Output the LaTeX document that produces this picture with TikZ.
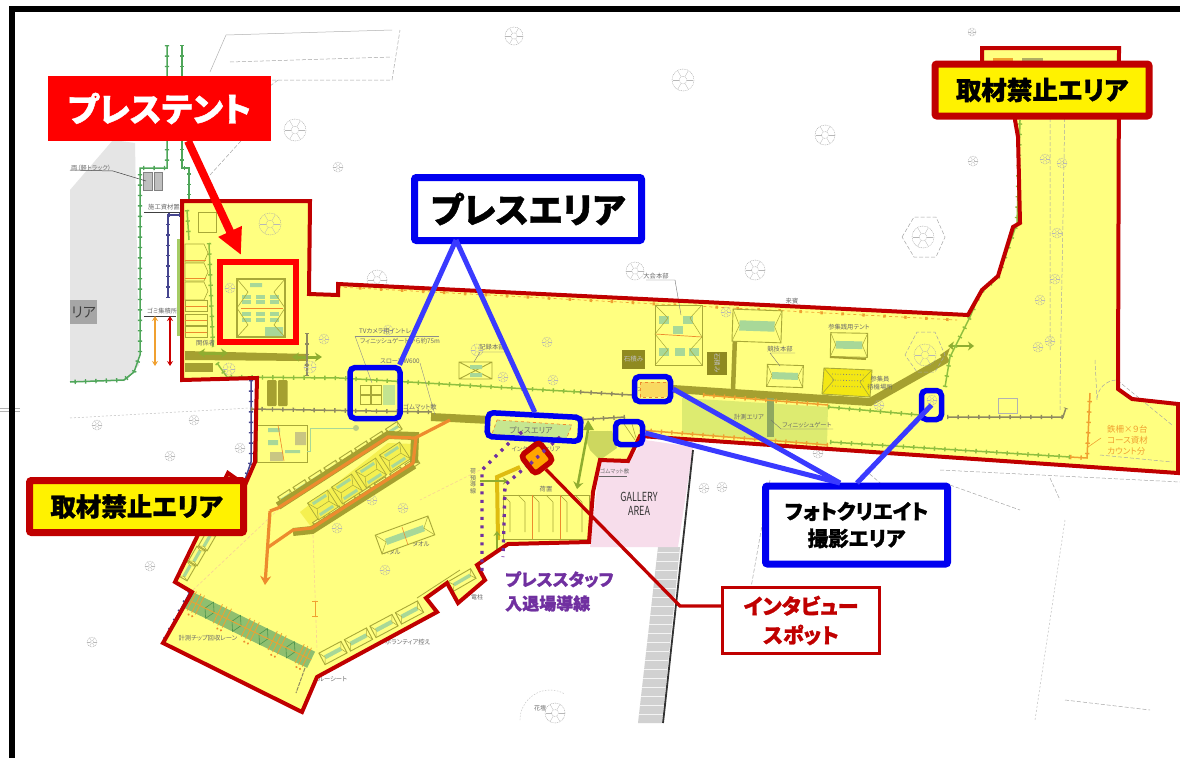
\documentclass[tikz,border=0pt]{standalone}
\usepackage{fontspec}
\setmainfont{Noto Sans CJK JP}[RawFeature={+palt},BoldFeatures={FakeBold=1.2}]
\usetikzlibrary{arrows.meta,shapes.geometric}
\definecolor{zone}{HTML}{FFFF80}
\definecolor{darkred}{HTML}{C00000}
\definecolor{pureblue}{HTML}{0000F0}
\definecolor{linkblue}{HTML}{3A3AFF}
\definecolor{mapgreen}{HTML}{4FA65A}
\definecolor{limefence}{HTML}{8FBF3F}
\definecolor{navyf}{HTML}{45458F}
\definecolor{greyf}{HTML}{8F8A60}
\definecolor{orangef}{HTML}{F0A030}
\definecolor{orangeline}{HTML}{ED8B2E}
\definecolor{olive}{HTML}{A5A030}
\definecolor{olivedark}{HTML}{8F8A20}
\definecolor{tentline}{HTML}{A8A838}
\definecolor{tentgreen}{HTML}{A8D898}
\definecolor{pinkarea}{HTML}{F7DDEB}
\definecolor{purp}{HTML}{7030A0}
\definecolor{lightzone}{HTML}{DDEB70}
\definecolor{arrowgreen}{HTML}{8FAD30}
\definecolor{brightyellow}{HTML}{F5F050}
\definecolor{lanegreen}{HTML}{8FBF6F}
\definecolor{gategreen}{HTML}{8FA860}
\tikzset{
  fence/.style={draw=#1,line width=1.5,postaction={draw=#1,line width=4.4,dash pattern=on 1.4 off 9}},
  bluesq/.style={draw=pureblue,line width=5.5,rounded corners=5,inner sep=0pt},
  bluelabel/.style={draw=pureblue,line width=7,rounded corners=2,fill=white,inner sep=0pt,align=center,font=\bfseries},
  banlabel/.style={draw=darkred,line width=7,rounded corners=2,fill=yellow,inner sep=0pt,minimum width=214,minimum height=52,font=\fontsize{25.5}{28}\selectfont\bfseries},
  bluelink/.style={draw=linkblue,line width=5},
  faint/.style={draw=black!30,line width=.5},
  faintd/.style={draw=black!35,line width=.5,dash pattern=on 4 off 2},
  tiny/.style={text=black!58,inner sep=0pt,font=\fontsize{6.3}{8}\selectfont},
  tentbox/.style={draw=tentline,line width=.9,fill=#1},
  tentbox/.default=zone,
}
% tent: centre x,y; width; height; angle
\newcommand{\tentic}[5]{%
  \begin{scope}[shift={(#1,#2)},rotate=#5]
    \draw[tentbox] (-#3/2,-#4/2) rectangle (#3/2,#4/2);
    \fill[tentgreen] (-#3*.36,-#4*.16) rectangle (#3*.36,#4*.16);
    \draw[tentline,line width=.5] (-#3/2,-#4/2) -- (-#3*.36,0) -- (-#3/2,#4/2) (#3/2,-#4/2) -- (#3*.36,0) -- (#3/2,#4/2);
  \end{scope}}
\newcommand{\treeic}[3]{%
  \begin{scope}[shift={(#1,#2)}]
    \draw[black!35,line width=.4,dash pattern=on 1 off .8] (0,0) circle (#3);
    \draw[black!35,line width=.35,dash pattern=on 1 off .8] (0,0) circle (#3*.35);
    \foreach \a in {0,60,...,300}{\draw[black!28,line width=.3] (\a:#3*.35) -- (\a:#3*.95);}
  \end{scope}}
\begin{document}
\begin{tikzpicture}[x=1pt,y=-1pt]
\useasboundingbox (0,0) rectangle (1180,758);
\fill[white] (0,0) rectangle (1180,758);
% ---- faint base map
\foreach \x/\y/\r in {295/130/11,230/118/10,124/201/5,126/250/6,93/233/5,127/293/5,121/336/5,86/373/6,125/373/6,338/167/5,377/280/10,514/36/9,683/80/11,825/135/10,973/161/5,972/32/4,97/425/5,194/420/5,170/456/5,240/448/5,150/566/5,92/642/5,923/237/11,755/270/10,635/271/9,555/713/10,704/488/5,722/487/5,818/453/5}{\treeic{\x}{\y}{\r}}
\draw[faintd] (902,237) -- (914,217) -- (936,217) -- (945,237) -- (936,257) -- (914,257) -- cycle;
\draw[black!25,line width=.4,dash pattern=on 1.5 off 1.5] (520,720) arc (180:300:30);
\draw[faint] (210,72) -- (226,35) -- (392,30);
\draw[faintd] (230,62) -- (392,57) (212,80) -- (392,80) -- (400,30);
\draw[faintd] (278,80) -- (212,130) (210,175) -- (260,120);
\draw[faint] (0,408) -- (20,408) (0,411) -- (20,411);
\draw[black!25,line width=.5,dash pattern=on 2 off 2] (70,418) -- (250,408);
\draw[faintd] (940,470) -- (1180,482) (950,485) -- (1020,510) (865,470) -- (900,500);
\draw[faintd] (770,480) -- (740,650) (1050,478) -- (1060,500) (1065,700) -- (1150,710);
\draw[black!25,line width=.5,dash pattern=on 2 off 2] (1065,520) -- (1035,720);
% grey area
\fill[black!10] (70,190) -- (113,140) -- (135,143) -- (139,365) -- (125,381) -- (70,382) -- cycle;
\node[fill=black!35,text=black!75,minimum width=27,minimum height=24,inner sep=0pt,anchor=north west,font=\fontsize{14}{16}\selectfont] (leftarea) at (70,300) {リア};
\draw[black!50,fill=black!25,line width=.5] (143,172) rectangle (152,190) (154,172) rectangle (162,190);
\draw[black!75,line width=.5] (70,170) -- (113,171) -- (146,181);
\node[tiny,anchor=west] (trucklabel) at (71,168) {両（軽トラック）};
\node[tiny,anchor=west] (matlabel) at (148,207) {施工資材置場};
\draw[black!75,line width=.4] (144,212) -- (180,212);
\node[tiny,anchor=west] (garbagelabel) at (147,311) {ゴミ集積所};
\draw[black!75,line width=.4] (144,316) -- (176,316);
% outside fences
\draw[fence=mapgreen] (167,45) -- (167,168) -- (140,168) -- (140,355) -- (134,372) -- (124,380) -- (70,382);
\draw[fence=mapgreen] (182,45) -- (182,168) -- (189,168) -- (189,202);
\draw[fence=navyf] (180,215) -- (168,215) -- (168,298);
\draw[fence=navyf] (251,380) -- (251,462) -- (245,480);
\draw[fence=navyf] (190,592) -- (163,643);
\draw[orangef,line width=2,{Stealth[length=5,width=6]}-{Stealth[length=5,width=6]}] (155,316) -- (155,366);
\draw[red!80!black,line width=2,{Stealth[length=5,width=6]}-{Stealth[length=5,width=6]}] (170,316) -- (170,366);
\draw[limefence!80!white,line width=1.5] (178,240) rectangle (180,335);
% road strip, pink gallery
\begin{scope}
  \clip (658,547) -- (680,547) -- (662,723) -- (638,723) -- cycle;
  \fill[black!18] (630,540) rectangle (690,730);
  \foreach \i in {0,1,...,19}{\draw[white!75!black!18,line width=.4] (630,552+9*\i) -- (690,552+9*\i);}
\end{scope}
\fill[pinkarea] (600,460) -- (628,461) -- (645,440) -- (693,447) -- (678,547) -- (590,547) -- cycle;
\draw[black!80,line width=1.8] (693,450) -- (663,723);
% ---- yellow zone
\fill[zone] (182,201) -- (310,201) -- (309,294) -- (338,295) -- (338,284) -- (968,315) -- (982,290) -- (998,276) -- (1013,227) -- (1020,223) -- (1018,137) -- (1015,120) -- (1015,90) -- (982,90) -- (982,48) -- (1119,48) -- (1118,389) -- (1132,399) -- (1178,404) -- (1178,473) -- (640,436) -- (628,461) -- (600,460) -- (593,492) -- (589,542) -- (508,544) -- (477,565) -- (485,580) -- (458,603) -- (447,583) -- (426,598) -- (437,612) -- (317,677) -- (302,712) -- (163,643) -- (192,592) -- (175,582) -- (228,473) -- (245,485) -- (255,462) -- (257,378) -- (182,380) -- cycle;
% light zone, bands
\fill[lightzone] (682,398) -- (828,407) -- (827,445) -- (682,433) -- cycle;
\draw[olive,line width=8] (431,417) -- (490,420);
\draw[olive,line width=8] (673,389) -- (870,402) -- (948,358);
\fill[olive] (950,348) -- (945,362) -- (940,355) -- cycle;
\draw[olive,line width=4.5] (735,337) -- (733,390);
\draw[gategreen,line width=7] (770,398) -- (770,437);
\fill[olive] (185,351) -- (308,354) -- (308,361) -- (185,360) -- cycle;
\fill[olive] (185,363) rectangle (213,372);
\foreach \x/\y in {267/380,278/380}{\fill[olive,rounded corners=1] (\x,\y) rectangle ++(9.5,26);}
\draw[arrowgreen,line width=3,{Stealth[length=7,width=9]}-{Stealth[length=7,width=9]}] (198,353) -- (228,353);
\draw[arrowgreen,line width=3,{Stealth[length=7,width=9]}-{Stealth[length=7,width=9]}] (292,357) -- (322,357);
\draw[arrowgreen,line width=2.5,{Stealth[length=6,width=9]}-{Stealth[length=6,width=9]}] (948,346) -- (974,346);
% fences in zone
\draw[fence=limefence] (217,363) -- (227,377) -- (340,378) -- (580,392);
\draw[fence=greyf] (580,392) -- (632,395);
\draw[fence=limefence] (828,407) -- (920,415);
\draw[fence=greyf] (947,417) -- (1063,417) -- (1066,408);
\draw[fence=limefence] (945,387) -- (950,357) -- (970,317) -- (980,293) -- (998,277) -- (1017,223) -- (1020,120);
\draw[fence=limefence] (830,442) -- (1070,457);
\draw[fence=orangef] (1070,457) -- (1087,458) -- (1090,393);
\draw[fence=greyf] (251,409) -- (432,412);
\draw[fence=greyf] (307,333) -- (307,375);
\draw[fence=limefence] (209,243) -- (213,347);
\draw[fence=limefence] (187,210) -- (189,240);
\draw[fence=orangef] (703,395) -- (828,405);
\draw[fence=orangef] (640,430) -- (828,445);
\draw[fence=greyf] (625,417) -- (575,420);
\draw[orangef,line width=.7,dashed,postaction={draw,line width=3,dash pattern=on 2.5 off 18.5}] (338,287) -- (957,320);
\draw[faintd] (1050,100) -- (1050,350) (1065,100) -- (1060,390) -- (1060,412);
\draw[faintd] (1095,360) -- (1097,400) arc (180:270:20) -- (1172,425);
\draw[faintd] (1100,455) -- (1172,462);
\draw[faint] (998,398) rectangle (1017,413);
% top-right parcels
\fill[orangef] (993,58) rectangle (1013,62);
\fill[olivedark!70] (1022,58) rectangle (1043,62);
% press tent area
\draw[tentline,line width=1.3] (237,279) rectangle (285,337);
\foreach \x in {246,260,274}{\foreach \y in {297,302,314,320}{\fill[tentgreen] (\x-4.5,\y-2) rectangle (\x+4.5,\y+2);}}
\fill[tentgreen] (250,283) rectangle (262,287) (265,327) rectangle (283,336);
\draw[orangeline,line width=.7] (241,308) -- (283,308);
\draw[tentline,line width=.6] (237,279) -- (248,292) -- (237,308) -- (248,325) -- (237,337) (285,279) -- (274,292) -- (285,308) -- (274,325) -- (285,337);
\foreach \x/\y/\r in {230/288/5,270/224/11,324/339/5,229/369/6,310/367/6,477/350/6,547/342/5,503/377/5,553/380/5,388/330/5,726/312/5,1045/159/5,1062/163/5,1057/233/5,1055/279/5,1040/300/5,1038/347/5,1050/341/5,879/405/5,925/355/11,932/400/5,605/445/5,372/500/5,337/528/5,403/508/5,385/570/5}{\treeic{\x}{\y}{\r}}
% stack of tents on left
\foreach \y in {244,263,282}{\draw[tentline,line width=.6,fill=zone] (185,\y) -- (204,\y) -- (208,\y+9) -- (204,\y+18) -- (185,\y+18) -- cycle;}
\draw[orangeline,line width=.7] (185,260) -- (206,260) (185,278) -- (206,278);
\foreach \y in {300,314,326}{\draw[tentline,line width=.6] (185,\y) rectangle (207,\y+11); \draw[orangeline,line width=.6] (185,\y+6) -- (207,\y+6);}
\draw[tentline,line width=.5] (198,212) rectangle (216,232);
\node[tiny,anchor=west] (kankei) at (196,343) {関係者};
% right tents
\draw[tentbox] (655,305) rectangle (702,365);
\foreach \x/\y in {664/320,688/320,664/352,680/352,694/352,678/330}{\fill[tentgreen] (\x-5,\y-4) rectangle (\x+5,\y+4);}
\draw[orangeline,line width=.7] (655,334) -- (702,337);
\draw[tentline,line width=.5] (655,305) -- (668,318) -- (655,334) -- (668,350) -- (655,365) (702,305) -- (690,318) -- (702,337) -- (690,350) -- (702,365);
\tentic{757}{326}{49}{32}{-2}
\tentic{785}{376}{36}{22}{-2}
\tentic{849}{345}{37}{24}{-1}
\draw[olive,line width=2] (830,357) -- (866,359);
\draw[tentline,fill=yellow!85!olive,line width=.9] (824,368) -- (872,370) -- (870,397) -- (822,394) -- cycle;
\foreach \y in {374,380,386}{\draw[black!50,dotted,line width=.8] (832,\y) -- (865,\y+1);}
\draw[tentline,line width=.6] (824,368) -- (834,380) -- (822,394) (872,370) -- (860,382) -- (870,397);
\fill[olivedark] (622,350) rectangle (645,369);
\node[text=black!25,inner sep=0pt,font=\fontsize{6.5}{8}\selectfont] (stone1) at (633.5,359.5) {石積み};
\fill[olivedark] (707,352) rectangle (727,375);
\node[text=black!25,inner sep=0pt,rotate=-90,font=\fontsize{6.5}{8}\selectfont] (stone2) at (717,363) {石積み};
\draw[tentline,line width=.9] (459,362) rectangle (492,379) (459,362) -- (492,379) (459,379) -- (492,362);
\fill[tentgreen] (470,365) rectangle (482,369) (470,373) rectangle (482,377);
\draw[faintd] (905,355) -- (917,332) -- (935,332) -- (945,355) -- (935,372) -- (917,372) -- cycle;
% TV cells
\foreach \x/\y in {360/385,371/385,360/395,371/395}{\draw[tentline,line width=.6] (\x,\y) rectangle ++(10,9);}
\fill[tentgreen!70!zone] (383,385) rectangle (395,405);
\draw[black!45,line width=.4] (355,336) -- (439,336);
\draw[black!45,line width=.4] (355,336) -- (372,383) (420,363) -- (435,415);
% labels on map
\node[tiny,anchor=west] (tvlabel1) at (359,331) {TVカメラ用イントレ};
\node[tiny,anchor=west] (tvlabel2) at (360,341) {フィニッシュゲートから約75m};
\node[tiny,anchor=west] (slope) at (380,361) {スロープW600};
\node[tiny,anchor=west] (mat) at (403,407) {ゴムマット敷};
\node[tiny,anchor=center] (rec) at (492,347) {記録本部};
\draw[black!55,line width=.4] (480,352) -- (505,352) (480,352) -- (474,362);
\node[tiny,anchor=center] (hq) at (656,276) {大会本部};
\draw[black!55,line width=.4] (646,280) -- (675,280) -- (681,315);
\node[tiny,anchor=center] (vip) at (792,301) {来賓};
\node[tiny,anchor=center] (sport) at (780,349) {競技本部};
\draw[black!55,line width=.4] (770,353) -- (795,353) (770,353) -- (780,366);
\node[tiny,anchor=center] (guest) at (849,327) {参集践用テント};
\node[tiny,anchor=center,align=center] (guest2) at (880,383) {参集員\\待機場所};
\node[tiny,anchor=center] (keisoku) at (749,417) {計測エリア};
\node[tiny,anchor=center] (finish) at (807,425) {フィニッシュゲート};
\draw[black!55,line width=.4] (771,420) -- (781,429) -- (833,429);
\node[tiny,anchor=center,font=\fontsize{5}{7}\selectfont] (smallbox) at (654,390) {フォトクリエイト};
\node[tiny,anchor=center,font=\fontsize{6}{7}\selectfont] (stat) at (606,434) {立入禁止};
\node[text=orangef,inner sep=0pt,align=left,anchor=north west,font=\fontsize{8.5}{11}\selectfont] (ironfence) at (1107,425) {鉄柵×９台\\コース資材\\カウント分};
\draw[orangef,line width=.6] (1088,447) -- (1101,438);
% pink text
\node[text=black!80,inner sep=0pt,align=center,xscale=.72,font=\fontsize{12.5}{13.5}\selectfont] (gallery) at (639,504) {GALLERY\\AREA};
\node[tiny,anchor=west,font=\fontsize{5.5}{7}\selectfont] (rubber) at (600,471) {ゴムマット敷};
\draw[black!60,line width=.4] (599,476) -- (627,476);
% hex, lower tents
\fill[lightzone!70!tentline] (590,431) -- (612,431) -- (617,448) -- (600,460) -- (590,450) -- (586,440) -- cycle;
\draw[tentline,line width=.9] (503,495) rectangle (589,539);
\foreach \x in {503,518,532,546,560,575}{\draw[tentline,line width=.6] (\x,495) -- (\x+7,502) (\x+7,502) -- (\x+7,532);}
\foreach \x in {532,560}{\draw[orangeline,line width=.7] (\x,495) -- (\x,539);}
\node[tiny,anchor=center] (nimotsu) at (546,489) {荷置};
\node[tiny,anchor=center,align=center,font=\fontsize{6}{6.5}\selectfont] (vert) at (473,481) {荷\\預\\導\\線};
\node[tiny,anchor=center,font=\fontsize{6}{7}\selectfont] (ivsmall) at (536,449) {インタビューエリア};
\node[tiny,anchor=center] (towel) at (421,544) {タオル};
\node[tiny,anchor=center] (medal) at (392,552) {メダル};
\node[tiny,anchor=center] (chiplane) at (208,638) {計測チップ回収レーン};
\node[tiny,anchor=west] (vol) at (385,642) {ボランティア控え};
\node[tiny,anchor=west] (bs) at (318,679) {ルーシート};
\node[tiny,anchor=center,font=\fontsize{6}{7}\selectfont] (pole) at (477,597) {電柱};
\node[tiny,anchor=center,font=\fontsize{6}{7}\selectfont] (flower) at (540,708) {花壇};
% purple & mini arrows
\draw[orangeline!40!yellow!90!black,line width=4] (520,467) -- (497,477) -- (498,540);
\draw[arrowgreen,line width=2,-{Stealth[length=5,width=7]}] (480,481) -- (508,481);
\draw[arrowgreen,line width=2,-{Stealth[length=5,width=7]}] (497,553) -- (497,531);
\fill[arrowgreen] (588,420) -- (594,430) -- (583,430) -- cycle;
\draw[arrowgreen,line width=2.5,-{Stealth[length=7,width=10]}] (588,430) -- (577,489);
\draw[orangef!50,line width=.6,dash pattern=on 3 off 2] (193,590) -- (283,505);
\draw[orangef!50,line width=.6,dash pattern=on 3 off 2] (313,535) -- (317,650);
\draw[orangef!50,line width=.6,dash pattern=on 3 off 2] (480,470) -- (420,500);
\draw[orangef,line width=.9] (312,601) -- (318,601) (315,601) -- (315,616) (312,616) -- (318,616);
% ---- tent cluster
\fill[brightyellow] (300,512) -- (388,443) -- (414,444) -- (411,458) -- (312,528) -- cycle;
\foreach \d in {0,1,...,7}{\tentic{\fpeval{286+\d*15.4}}{\fpeval{497-\d*9.7}}{14}{9}{33}}
\foreach \d in {0,1,...,6}{\tentic{\fpeval{320+\d*15.4}}{\fpeval{522-\d*9.7}}{13}{7}{33}}
\foreach \d in {0,1,2,3}{
  \begin{scope}[shift={(\fpeval{323+\d*24},\fpeval{505-\d*16})},rotate=33]
    \draw[tentline,line width=.7,fill=brightyellow] (-12,-10) rectangle (12,10);
    \fill[tentgreen] (-8,-8) rectangle (8,-5) (-8,5) rectangle (8,8);
    \draw[tentline,line width=.5] (-12,-10) -- (-7,0) -- (-12,10) (12,-10) -- (7,0) -- (12,10) (-7,0) -- (7,0);
  \end{scope}}
\draw[olive,line width=8] (278,506) -- (388,435) -- (415,436) -- (414,463);
\draw[olive,line width=8] (293,532) -- (312,530) -- (414,465);
\draw[orangeline,line width=3.2] (450,420) -- (415,438) -- (388,437) -- (278,508) -- (270,511);
\draw[orangeline,line width=3.2] (416,438) -- (413,463) -- (312,528) -- (293,530) -- (267,548);
\draw[orangeline,line width=3.2,-{Stealth[length=9,width=11]}] (270,511) -- (265,585);
% medal tent
\tentic{405}{535}{56}{20}{20}
\draw[orangeline,line width=.6] (402,527) -- (408,545);
% small facility left
\draw[tentbox] (257,425) rectangle (307,462);
\fill[tentgreen] (268,428) rectangle (280,432) (268,440) rectangle (278,445) (285,450) rectangle (300,453);
\fill[olive!60] (295,432) rectangle (306,445) (270,452) rectangle (283,461);
\draw[orangeline,line width=.6] (278,425) -- (284,461);
\draw[tentgreen,line width=1] (307,451) -- (310,451) -- (310,428) -- (356,428);
\fill[arrowgreen!60] (356,428) circle (3);
% chip lane
\begin{scope}[shift={(250,630)},rotate=-26]
  \fill[lanegreen] (-68,-9) rectangle (68,9);
  \foreach \x in {-65,-60,-56,-36,-31,-26,-5,0,5,25,30,35,55,59,63}{\draw[orangef,line width=.8] (\x,-11) -- (\x,10);}
  \foreach \x in {-45,-15,15,45}{\draw[green!40!black!70,line width=.6] (\x-5,0) -- (\x,-9) -- (\x+5,0) -- (\x,9) -- cycle;}
  \draw[orangef,line width=.8] (-68,0) -- (68,0);
  \foreach \x in {-62,-30,0,30,58}{\fill[orangeline] (\x,13) circle (1.2) (\x+4,13) circle (1.2);}
\end{scope}
\draw[greyf,line width=1,dash pattern=on 4 off 1] (305,668) -- (296,693);
% volunteer tents
\foreach \d in {0,1,2,3}{\tentic{\fpeval{333+\d*25.5}}{\fpeval{653-\d*13.5}}{25}{13}{28}}
\tentic{462}{580}{26}{11}{30}
\draw[tentline,line width=.8] (417,598) -- (460,570);
\foreach \d in {0,1,2}{\tentic{\fpeval{187+\d*10}}{\fpeval{571-\d*15}}{17}{10}{60}}
% press mini-area
\draw[orangeline,line width=.7,dashed,fill=tentgreen!65!zone] (497,420) -- (572,425) -- (565,442) -- (492,434) -- cycle;
\node[tiny,anchor=center,font=\fontsize{8}{9}\selectfont] (pressmini) at (531,430) {プレスエリア};
\fill[zone!60!orangef] (640,382) rectangle (668,397);
\draw[orangeline,line width=.6,dashed] (640,382) rectangle (668,397);
\draw[tentline,line width=.6] (624,424) -- (635,440) (632,424) -- (636,438);
% ---- zone outline
\draw[darkred,line width=4,line join=miter] (182,201) -- (310,201) -- (309,294) -- (338,295) -- (338,284) -- (968,315) -- (982,290) -- (998,276) -- (1013,227) -- (1020,223) -- (1018,137) -- (1015,120) -- (1015,90) -- (982,90) -- (982,48) -- (1119,48) -- (1118,389) -- (1132,399) -- (1178,404) -- (1178,473) -- (640,436) -- (628,461) -- (600,460) -- (593,492) -- (589,542) -- (508,544) -- (477,565) -- (485,580) -- (458,603) -- (447,583) -- (426,598) -- (437,612) -- (317,677) -- (302,712) -- (163,643) -- (192,592) -- (175,582) -- (228,473) -- (245,485) -- (255,462) -- (257,378) -- (182,380) -- cycle;
\draw[purp,line width=3.3,dash pattern=on 3 off 5.5] (522,432) -- (510,442) -- (482,470) -- (482,573);
\draw[purp,line width=3.3,dash pattern=on 3 off 5.5] (560,437) -- (536,458) -- (505,485) -- (503,557);
% ---- area markers
\node[bluesq,minimum width=50,minimum height=51] (tvsq) at (375,393) {};
\node[bluesq,minimum width=93,minimum height=24,rotate=-3] (pasq) at (534,427) {};
\node[bluesq,minimum width=36,minimum height=25] (pcA) at (652.5,389) {};
\node[bluesq,minimum width=27,minimum height=23] (pcB) at (629,433) {};
\node[bluesq,minimum width=20,minimum height=29] (pcC) at (931.5,405) {};
\node[draw=darkred,line width=5.5,rounded corners=4,fill=orange!70!yellow,inner sep=0pt,minimum width=23,minimum height=23,rotate=38] (iq) at (537,458) {};
\draw[purp,line width=3.3,dash pattern=on 3 off 5.5] (545,450) -- (528,466);
\node[draw=red,line width=6,inner sep=0pt,minimum width=76,minimum height=80] (tentsq) at (258,302) {};
% ---- callouts
\node[bluelabel,minimum width=227,minimum height=63,font=\fontsize{35}{38}\selectfont\bfseries] (press) at (528,209) {プレスエリア};
\node[bluelabel,minimum width=182,minimum height=78,font=\fontsize{20.5}{27}\selectfont\bfseries] (photo) at (856.5,525) {フォトクリエイト\\撮影エリア};
\coordinate (pressfoot) at (456,240);
\coordinate (photofootA) at (840,483);
\coordinate (photofootB) at (857,483);
\draw[bluelink] (pressfoot) -- (tvsq.49);
\draw[bluelink] (pressfoot) -- (pasq.north);
\draw[bluelink] (pcA.east) -- (photofootA);
\draw[bluelink] (pcB.east) -- (photofootA);
\draw[bluelink] (pcC.center) -- (photofootB);
% red label & arrow
\node[fill=red,text=white,minimum width=223,minimum height=65,inner sep=0pt,font=\fontsize{33.5}{36}\selectfont\bfseries] (tentlabel) at (159.5,108.5) {プレステント};
\coordinate (tentfoot) at (188,141);
\coordinate (tenttip) at (241,255);
\draw[red,line width=8,-{Triangle[length=26,width=24]}] (tentfoot) -- (tenttip);
% bans
\node[banlabel] (banA) at (1042,90) {取材禁止エリア};
\node[banlabel] (banB) at (136.5,506.5) {取材禁止エリア};
% interview
\node[draw=darkred,line width=3.5,fill=white,text=darkred,minimum width=157,minimum height=66,inner sep=0pt,align=center,font=\fontsize{21}{29}\selectfont\bfseries] (iv) at (801,620.5) {インタビュー\\スポット};
\coordinate (ivfoot) at (722.5,606);
\coordinate (ivbend) at (680,606);
\draw[darkred,line width=3.3] (ivfoot) -- (ivbend) -- (iq.south);
% purple text
\node[text=purp,inner sep=0pt,anchor=north west,align=left,font=\fontsize{17}{24}\selectfont\bfseries] (stafflabel) at (505,571) {プレススタッフ\\入退場導線};
% frame
\fill[black] (9,6) rectangle (1180,12);
\fill[black] (9,6) rectangle (15,758);
\end{tikzpicture}
\end{document}
